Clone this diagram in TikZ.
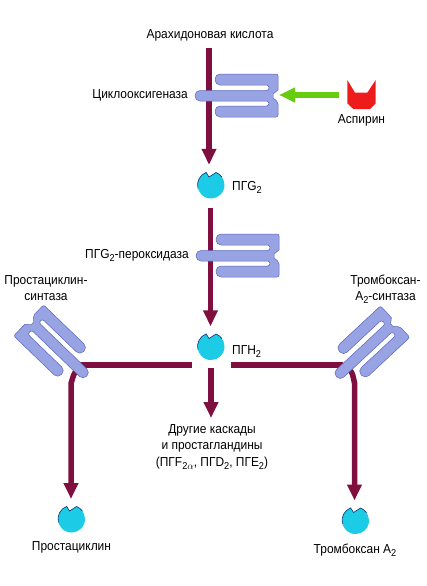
\documentclass[tikz,border=0pt]{standalone}
\usepackage{fontspec}
\setmainfont[FakeStretch=0.92]{Liberation Sans}
\usetikzlibrary{arrows.meta}
\definecolor{cascade}{HTML}{7E0F3F}
\definecolor{enzymeblue}{HTML}{98A3E4}
\definecolor{enzymeline}{HTML}{5A66BE}
\definecolor{cupcyan}{HTML}{1CCBE6}
\definecolor{cupline}{HTML}{14306E}
\definecolor{blockgreen}{HTML}{66CC0E}
\definecolor{blockred}{HTML}{EE1B1B}
\newcommand{\low}[1]{\raisebox{-3pt}{\fontsize{10}{10}\selectfont #1}}

\tikzset{
	enzyme/.pic={
		\path [fill=enzymeblue, draw=enzymeline, line width=0.5pt, rounded corners=2pt]
			(0,-6) -- (0,-22) [rounded corners=5pt] -- (-63,-22) -- (-63,-11) [rounded corners=2.5pt] -- (-9,-11) -- (-9,-5.5)
			[rounded corners=5pt] -- (-83,-5.5) -- (-83,5) [rounded corners=2.5pt] -- (-9,5) -- (-9,10)
			[rounded corners=5pt] -- (-63,10) -- (-63,21) [rounded corners=2pt] -- (0,21) -- (0,6) [sharp corners] -- (-5,2) -- (-5,-2) -- cycle;
	},
	cup/.pic={
		\fill [cupcyan] (-68:13.5) arc [start angle=-68, end angle=249, radius=13.5] -- (-2,-8) -- cycle;
		\draw [cupline, line width=0.6pt] (165:13.5) arc [start angle=165, end angle=249, radius=13.5] -- (-2,-8) -- (-68:13.5) arc [start angle=-68, end angle=-35, radius=13.5];
	}
}

\begin{document}
\begin{tikzpicture}[
		x=1pt, y=-1pt,
		txt/.style={font=\fontsize{13}{16.5}\selectfont, align=center, inner sep=0pt},
		substrate/.style={circle, minimum size=40pt, inner sep=0pt},
		arrow/.style={cascade, line width=5.5pt, -{Triangle[width=14pt, length=16pt]}},
		branch/.style={cascade, line width=5.5pt}
		]
		\useasboundingbox (0,0) rectangle (427,586);
		
		% Nodes
		\node (acid) [txt] at (210,35) {Арахидоновая кислота};
		\node (cox) [txt, anchor=east] at (188,95) {Циклооксигеназа};
		\node (aspirin) [txt] at (361.5,120) {Аспирин};
		\node (pgg) [substrate] at (211,185) {};
		\node (pggtxt) [txt, anchor=west] at (232,187) {ПГG\low{2}};
		\node (perox) [txt, anchor=east] at (189,255) {ПГG\low{2}-пероксидаза};
		\node (prostsyn) [txt] at (46,288) {Простациклин-\\синтаза};
		\node (thromsyn) [txt] at (385.5,289) {Тромбоксан-\\А\low{2}-синтаза};
		\node (pgh) [substrate] at (211,346.5) {};
		\node (pghtxt) [txt, anchor=west] at (232,352) {ПГН\low{2}};
		\node (others) [txt] at (212,447) {Другие каскады\\и простагландины\\(ПГF\low{2$\alpha$}, ПГD\low{2}, ПГE\low{2})};
		\node (prost) [substrate] at (71.5,519) {};
		\node (prosttxt) [txt] at (71.5,547) {Простациклин};
		\node (throm) [substrate] at (355.5,520.5) {};
		\node (thromtxt) [txt] at (355,550) {Тромбоксан A\low{2}};
		
		% Free ends
		\coordinate (acidout) at (209,48);
		\coordinate (pggout) at (210.5,208);
		\coordinate (pghout) at (211,368);
		\coordinate (pghleft) at (192,365);
		\coordinate (prostin) at (80,365);
		\coordinate (pghright) at (231,365);
		\coordinate (thromin) at (343,365);
		\coordinate (prostout) at (78,371);
		\coordinate (thromout) at (349,371);
		\coordinate (aspout) at (339,95);
		\coordinate (coxnotch) at (279,95);
		
		% Arrows
		\draw [arrow] (acidout) -- (acidout |- pgg.north);
		\draw [arrow] (pggout) -- (pggout |- pgh.north);
		\draw [arrow] (pghout) -- (pghout |- 0,418);
		\draw [branch] (pghleft) -- (prostin);
		\draw [branch] (pghright) -- (thromin);
		\draw [arrow] (prostout) to [out=150, in=-90] (71,382) -- (71,499);
		\draw [arrow] (thromout) to [out=30, in=-90] (354.5,382) -- (354.5,500.5);
		\draw [blockgreen, line width=5.5pt, -{Triangle[width=14pt, length=16pt]}] (aspout) -- (coxnotch);
		
		% Enzymes
		\pic at (278,96) {enzyme};
		\pic at (279,256) {enzyme};
		\pic [rotate=136, xscale=.97] at (29,320) {enzyme};
		\pic [rotate=43, xscale=.97] at (395.5,322) {enzyme};
		
		% Substrates
		\pic at (pgg) {cup};
		\pic at (pgh) {cup};
		\pic at (prost) {cup};
		\pic at (throm) {cup};
		
		% Aspirin
		\fill [blockred] (347.3,80) -- (355,92.7) -- (367.3,92.7) -- (375.7,80) -- (375.7,103.3) -- (370,109) -- (353.3,109) -- (347.3,103.3) -- cycle;
		
	\end{tikzpicture}
\end{document}
